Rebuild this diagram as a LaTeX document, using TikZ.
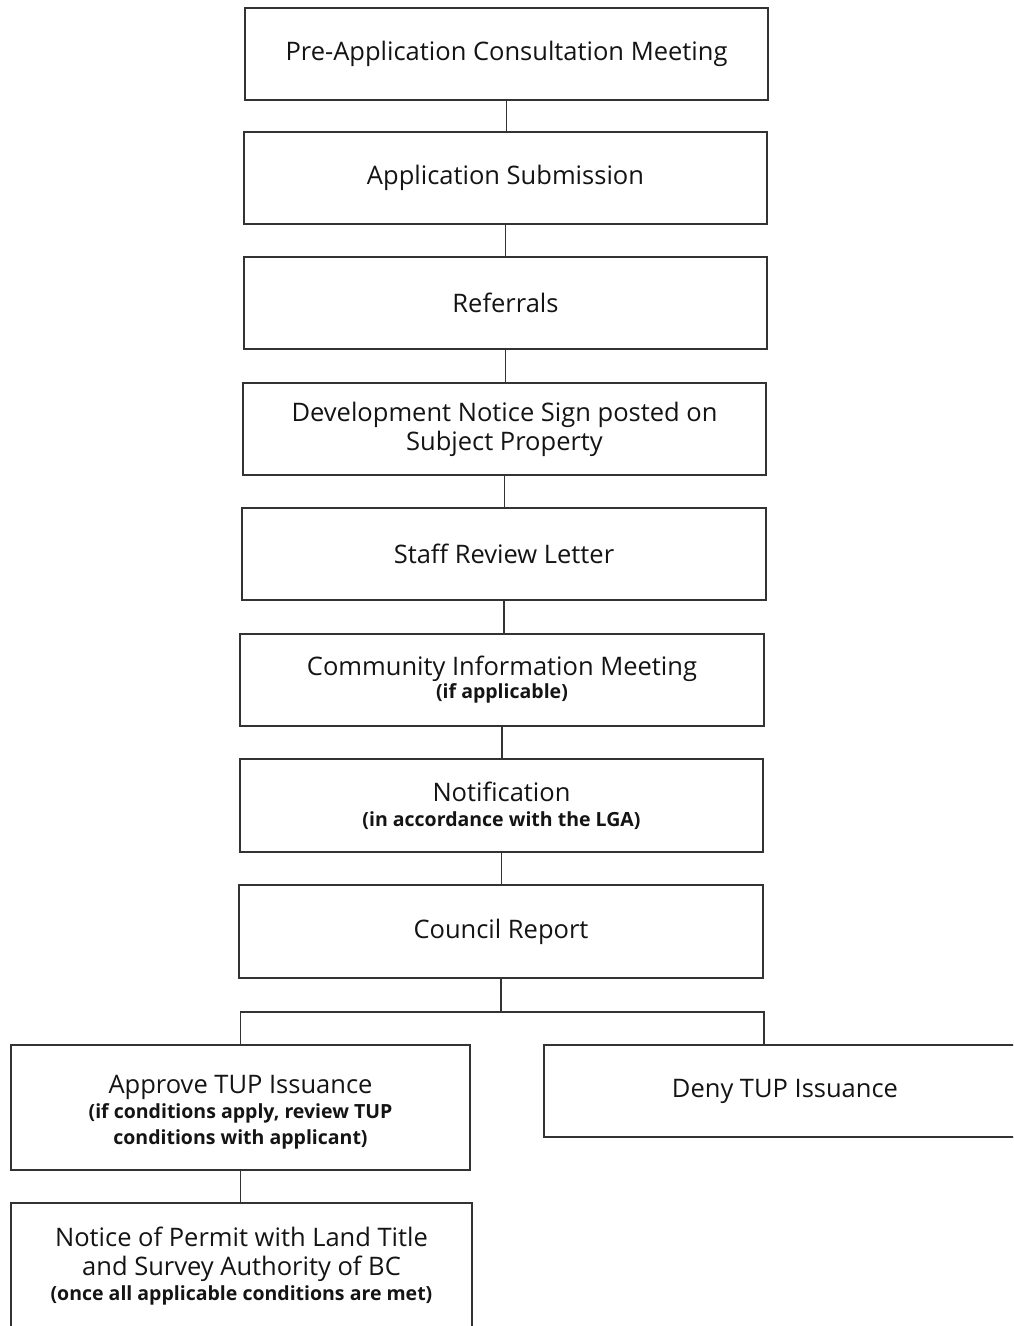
\documentclass[tikz,border=0pt]{standalone}
\usepackage{fontspec}
\setmainfont{Open Sans}
\begin{document}
\begin{tikzpicture}[x=1pt,y=-1pt,
  stepbox/.style={draw=linegray, line width=1.9pt, rectangle, align=center,
    text=textgray, inner sep=0pt, font=\mainfs},
  link/.style={draw=linegray, line width=1.9pt}]
\definecolor{linegray}{HTML}{333333}
\definecolor{textgray}{HTML}{141414}
\newcommand{\mainfs}{\fontsize{25.5}{29}\selectfont}
\newcommand{\subfs}{\fontsize{19.5}{26}\selectfont\bfseries}
\useasboundingbox (0,0) rectangle (1013,1326);
\clip (0,0) rectangle (1013,1326);
\fill[white] (0,0) rectangle (1013,1326);

\node[stepbox, minimum width=523, minimum height=92] (pre) at (506.5,54) {Pre-Application Consultation Meeting};
\node[stepbox, minimum width=523, minimum height=92] (sub) at (505.5,178) {Application Submission};
\node[stepbox, minimum width=523, minimum height=92] (ref) at (505.5,303) {Referrals};
\node[stepbox, minimum width=523, minimum height=92] (sign) at (504.5,429) {Development Notice Sign posted on\\Subject Property};
\node[stepbox, minimum width=524, minimum height=92] (staff) at (504,554) {Staff Review Letter};
\node[stepbox, minimum width=524, minimum height=92] (cim) at (502,680) {Community Information Meeting\\[-6pt]{\subfs (if applicable)}};
\node[stepbox, minimum width=523, minimum height=93] (notif) at (501.5,805.5) {Notification\\[-4pt]{\subfs (in accordance with the LGA)}};
\node[stepbox, minimum width=524, minimum height=93] (council) at (501,931.5) {Council Report};
\node[stepbox, minimum width=459, minimum height=125] (approve) at (240.5,1107.5) {\rule{0pt}{27pt}Approve TUP Issuance\\[-4pt]{\subfs (if conditions apply, review TUP}\\[-3pt]{\subfs conditions with applicant)}};
\node[stepbox, minimum width=482, minimum height=92] (deny) at (785,1091) {Deny TUP Issuance};
\node[stepbox, minimum width=461, minimum height=126] (notice) at (241.5,1266) {Notice of Permit with Land Title\\and Survey Authority of BC\\[-4pt]{\subfs (once all applicable conditions are met)}};

\draw[link] (pre.south) -- (pre.south |- sub.north);
\draw[link] (sub.south) -- (sub.south |- ref.north);
\draw[link] (ref.south) -- (ref.south |- sign.north);
\draw[link] (sign.south) -- (sign.south |- staff.north);
\draw[link] (staff.south) -- (staff.south |- cim.north);
\draw[link] (cim.south) -- (cim.south |- notif.north);
\draw[link] (notif.south) -- (notif.south |- council.north);

\coordinate (split) at (501,1012);
\coordinate (denyin) at (764,1045);
\draw[link] (council.south) -- (split);
\draw[link] (approve.north) |- (split);
\draw[link] (split) -| (denyin);
\draw[link] (approve.south) -- (approve.south |- notice.north);
\end{tikzpicture}
\end{document}
